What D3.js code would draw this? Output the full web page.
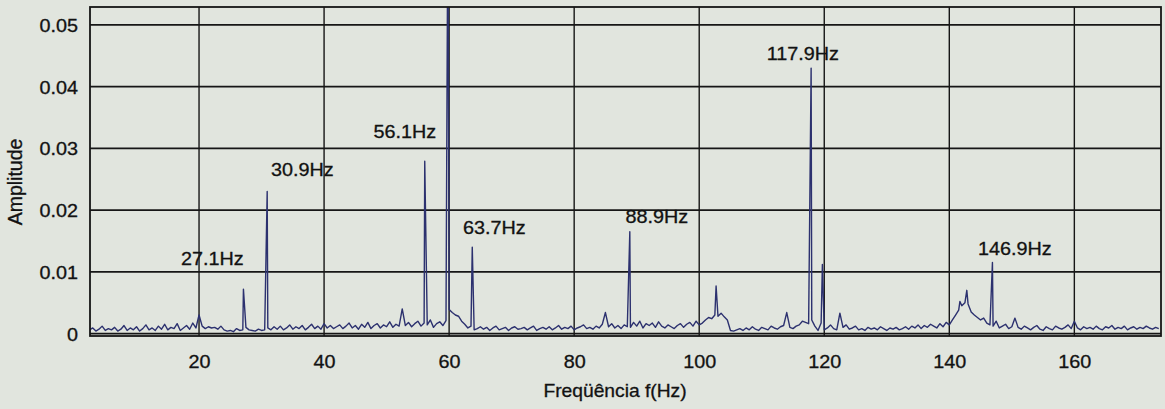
<!DOCTYPE html>
<html>
<head>
<meta charset="utf-8">
<script src="https://cdn.jsdelivr.net/npm/d3@7"></script>
<style>
  html, body { margin: 0; padding: 0; background: #e1e5de; }
  svg { display: block; }
  text { font-family: "Liberation Sans", Arial, sans-serif; fill: #121212; stroke: #121212; stroke-width: 0.3px; }
</style>
</head>
<body>
<svg id="chart" width="1165" height="409"></svg>
<script>
// ---- axis ticks ----
const xTicks = [20, 40, 60, 80, 100, 120, 140, 160];
const xTickLabels = ["20", "40", "60", "80", "100", "120", "140", "160"];
const yTicks = [0, 0.01, 0.02, 0.03, 0.04, 0.05];
const yTickLabels = ["0", "0.01", "0.02", "0.03", "0.04", "0.05"];

// ---- spectrum background (noise floor), one value every 0.5 Hz from 2.5 Hz, in units of 1e-4 ----
const noiseStartHz = 2.5;
const noiseStepHz = 0.5;
const noiseFloorE4 = [
  6, 9, 4, 7, 12, 5, 8, 6, 10, 4, 7, 13, 5, 9, 6, 11, 4, 8, 14, 6,          // 2.5 - 12.0
  9, 5, 12, 7, 15, 6, 10, 8, 16, 5, 9, 13, 7, 17, 9, 30, 12, 8, 11, 9,      // 12.5 - 22.0
  10, 7, 12, 6, 4, 5, 3, 8, 5, 6, 10, 6, 5, 4, 7, 5, 6, 9, 6, 11,           // 22.5 - 32.0
  7, 12, 6, 9, 14, 7, 11, 8, 13, 6, 10, 15, 8, 12, 7, 16, 9, 13, 8, 11,     // 32.5 - 42.0
  14, 8, 12, 17, 9, 13, 7, 15, 10, 18, 8, 13, 16, 9, 14, 11, 19, 10, 15, 12, // 42.5 - 52.0
  40, 13, 18, 11, 16, 20, 12, 17, 14, 22, 10, 16, 19, 13, 21, 39, 34, 30, 28, 20, // 52.5 - 62.0
  15, 9, 12, 6, 8, 11, 7, 10, 5, 9, 12, 6, 8, 10, 5, 9, 11, 7, 8, 10,       // 62.5 - 72.0
  6, 9, 12, 5, 8, 10, 7, 11, 6, 9, 13, 7, 10, 8, 12, 6, 9, 11, 14, 8,       // 72.5 - 82.0
  10, 7, 12, 9, 15, 34, 11, 16, 9, 13, 8, 14, 11, 10, 18, 12, 20, 9, 16, 13, // 82.5 - 92.0
  17, 10, 19, 12, 9, 14, 11, 8, 13, 16, 10, 15, 18, 12, 20, 14, 17, 22, 26, 24, // 92.5 - 102.0
  30, 28, 33, 27, 22, 5, 4, 6, 8, 5, 9, 6, 11, 7, 5, 10, 8, 6, 12, 9,       // 102.5 - 112.0
  7, 11, 13, 34, 10, 8, 12, 14, 20, 18, 16, 22, 12, 5, 17, 6, 9, 14, 8, 6,  // 112.5 - 122.0
  33, 10, 14, 7, 9, 12, 6, 8, 5, 10, 7, 9, 6, 11, 8, 5, 9, 7, 10, 6,        // 122.5 - 132.0
  8, 11, 7, 12, 9, 14, 8, 13, 10, 15, 12, 9, 16, 11, 18, 14, 22, 30, 38, 45, // 132.5 - 142.0
  50, 48, 35, 30, 26, 22, 25, 17, 14, 12, 20, 9, 12, 15, 8, 11, 25, 10, 7, 12, // 142.5 - 152.0
  9, 6, 10, 13, 7, 5, 11, 8, 6, 12, 9, 7, 10, 14, 8, 20, 9, 6, 11, 8,       // 152.5 - 162.0
  10, 7, 12, 8, 6, 11, 9, 13, 7, 10, 8, 12, 6, 9, 11, 7, 10, 8, 12, 9,      // 162.5 - 172.0
  7, 10, 8                                                                  // 172.5 - 173.5
];

// ---- discrete spectral lines ----
const peakFreq = [27.1, 30.9, 56.1, 59.8, 63.7, 88.9, 102.7, 117.9, 119.7, 141.7, 142.8, 146.9];
const peakAmp  = [0.0072, 0.0230, 0.0279, 0.0700, 0.0140, 0.0165, 0.0077, 0.0430, 0.0112, 0.0052, 0.0070, 0.0115];

// ---- peak annotations: text and anchor (start of text, baseline) in data units ----
const labelText = ["27.1Hz", "30.9Hz", "56.1Hz", "63.7Hz", "88.9Hz", "117.9Hz", "146.9Hz"];
const labelAtHz = [17.1, 31.5, 47.9, 62.2, 88.2, 110.8, 144.6];
const labelAtAmp = [0.0111, 0.0255, 0.0316, 0.0162, 0.0179, 0.0443, 0.0127];

// ---- layout ----
const plot = { left: 90, right: 1161, top: 7, bottom: 336 };
const textStretch = 1.1;
const ink = "#161616";
const traceColor = "#2c316f";

const svg = d3.select("#chart");

const x = d3.scaleLinear().domain([2.56, 173.86]).range([plot.left, plot.right]);
const y = d3.scaleLinear().domain([-0.0004, 0.0529]).range([plot.bottom, plot.top]);

// grid
const grid = svg.append("g").attr("class", "grid");
grid.selectAll("line.vx")
  .data(xTicks)
  .join("line")
  .attr("class", "vx")
  .attr("x1", d => x(d)).attr("x2", d => x(d))
  .attr("y1", plot.top).attr("y2", plot.bottom)
  .attr("stroke", ink).attr("stroke-width", 1.4);
grid.selectAll("line.hy")
  .data(yTicks)
  .join("line")
  .attr("class", "hy")
  .attr("x1", plot.left).attr("x2", plot.right)
  .attr("y1", d => y(d)).attr("y2", d => y(d))
  .attr("stroke", ink).attr("stroke-width", 1.8);

// spectrum trace
const points = noiseFloorE4.map((v, i) => [noiseStartHz + i * noiseStepHz, v * 1e-4])
  .concat(peakFreq.map((f, i) => [f, peakAmp[i]]))
  .sort((a, b) => a[0] - b[0]);

svg.append("clipPath").attr("id", "plotClip")
  .append("rect")
  .attr("x", plot.left).attr("y", plot.top)
  .attr("width", plot.right - plot.left).attr("height", plot.bottom - plot.top);

const line = d3.line().x(d => x(d[0])).y(d => y(d[1]));
svg.append("path")
  .datum(points)
  .attr("clip-path", "url(#plotClip)")
  .attr("d", line)
  .attr("fill", "none")
  .attr("stroke", traceColor)
  .attr("stroke-width", 1.4)
  .attr("stroke-linejoin", "round");

// frame
svg.append("rect")
  .attr("x", plot.left).attr("y", plot.top)
  .attr("width", plot.right - plot.left).attr("height", plot.bottom - plot.top)
  .attr("fill", "none").attr("stroke", ink).attr("stroke-width", 1.8);

// x axis labels
const xAxis = d3.axisBottom(x).tickValues(xTicks)
  .tickFormat((d, i) => xTickLabels[i]).tickSize(0).tickPadding(0);
const gx = svg.append("g").attr("transform", `translate(0,${plot.bottom})`).call(xAxis);
gx.select(".domain").remove();
gx.selectAll("text")
  .attr("y", 32).attr("dy", 0)
  .attr("transform", `scale(${textStretch},1)`)
  .style("font-size", "18px").attr("fill", ink);

// y axis labels
const yAxis = d3.axisLeft(y).tickValues(yTicks)
  .tickFormat((d, i) => yTickLabels[i]).tickSize(0).tickPadding(0);
const gy = svg.append("g").attr("transform", `translate(${plot.left},0)`).call(yAxis);
gy.select(".domain").remove();
gy.selectAll("text")
  .attr("x", -12 / textStretch).attr("dy", "0.36em")
  .attr("transform", `scale(${textStretch},1)`)
  .style("font-size", "18px").attr("fill", ink);

// axis titles
svg.append("text")
  .attr("transform", `translate(615,397) scale(${textStretch},1)`)
  .attr("text-anchor", "middle")
  .style("font-size", "17.5px")
  .text("Freqüência f(Hz)");

svg.append("text")
  .attr("transform", `translate(22,182) rotate(-90)`)
  .attr("text-anchor", "middle")
  .style("font-size", "19.5px")
  .text("Amplitude");

// peak annotations
svg.append("g").selectAll("text")
  .data(labelText)
  .join("text")
  .attr("transform", (d, i) => `translate(${x(labelAtHz[i])},${y(labelAtAmp[i])}) scale(${textStretch},1)`)
  .style("font-size", "18px")
  .text(d => d);
</script>
</body>
</html>
